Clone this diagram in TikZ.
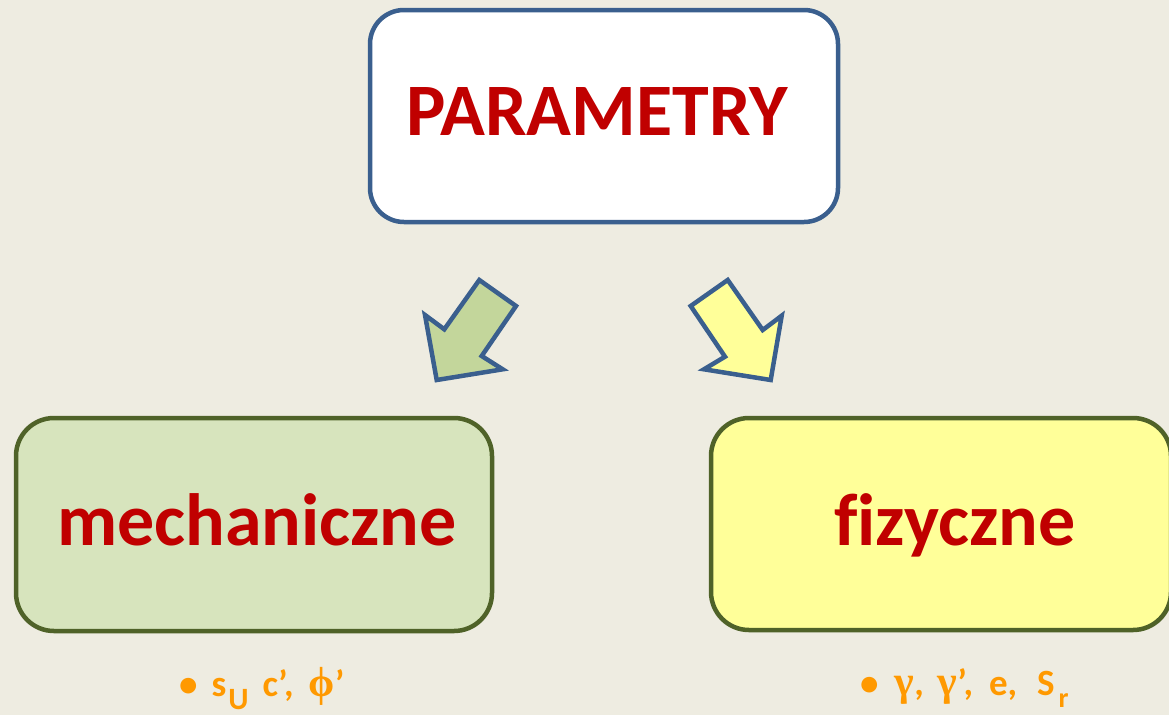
\documentclass[tikz,border=0pt]{standalone}
\usepackage{fontspec}
\setmainfont{Carlito}[Ligatures=NoCommon]
\newfontfamily\greekfont{Liberation Serif}
\definecolor{pagebg}{RGB}{238,236,225}
\definecolor{titlered}{RGB}{192,0,0}
\definecolor{framblue}{RGB}{58,95,142}
\definecolor{olivedark}{RGB}{79,98,40}
\definecolor{greenfill}{RGB}{215,228,189}
\definecolor{arrowgreen}{RGB}{195,214,155}
\definecolor{yellowfill}{RGB}{255,255,153}
\definecolor{bulletorange}{RGB}{255,153,0}
\newcommand{\gk}[1]{{\greekfont\fontsize{42}{44}\selectfont #1}}
\tikzset{
  panel/.style={draw, line width=4.5pt, rounded corners=38pt, inner sep=0pt},
  heading/.style={text=titlered, font=\fontsize{74}{80}\selectfont\bfseries, inner sep=0pt},
  notes/.style={text=bulletorange, font=\fontsize{37}{40}\selectfont\bfseries, inner sep=0pt, anchor=base west},
  blockarrow/.style={draw=framblue, line width=4.5pt, line join=miter},
}
\begin{document}
\begin{tikzpicture}[x=1pt,y=-1pt]
  \fill[pagebg] (0,0) rectangle (1169,715);
  \useasboundingbox (0,0) rectangle (1169,715);
  \clip (0,0) rectangle (1169,715);

  % top box
  \node[panel, draw=framblue, fill=white, rounded corners=34pt,
        minimum width=468pt, minimum height=212pt] (top) at (604,116) {};
  \node[heading] (toptext) at (597,112) {PARAMETRY};

  % lower boxes
  \node[panel, draw=olivedark, fill=greenfill,
        minimum width=476pt, minimum height=213pt] (mech) at (254,524.5) {};
  \node[heading, anchor=base] (mechtext) at (257,545) {mechaniczne};

  \node[panel, draw=olivedark, fill=yellowfill,
        minimum width=460pt, minimum height=212pt] (fiz) at (941,524) {};
  \node[heading, anchor=base] (fiztext) at (955,545) {fizyczne};

  % block arrows
  \draw[blockarrow, fill=arrowgreen]
    (479.3,280) -- (516,306) -- (481.7,356) -- (502.7,369.3) -- (436.7,380)
    -- (425,315) -- (444.3,329.3) -- cycle;
  \draw[blockarrow, fill=yellowfill]
    (690.7,306) -- (727.7,280) -- (762.7,330) -- (781.7,315.7) -- (770.7,380)
    -- (704,369.3) -- (725,356.7) -- cycle;

  % parameter lists
  \node[notes] (mechlist) at (179,696)
    {•\hspace{14pt}s\raisebox{-13pt}{\fontsize{31}{34}\selectfont\hspace{2pt}U}\hspace{14pt}c’,\hspace{15pt}\gk{ϕ}’};
  \node[notes] (fizlist) at (860,695)
    {•\hspace{16pt}\gk{γ},\hspace{14pt}\gk{γ}’,\hspace{16pt}e,\hspace{20pt}S\raisebox{-12pt}{\fontsize{28}{30}\selectfont\hspace{4pt}r}};
\end{tikzpicture}
\end{document}
